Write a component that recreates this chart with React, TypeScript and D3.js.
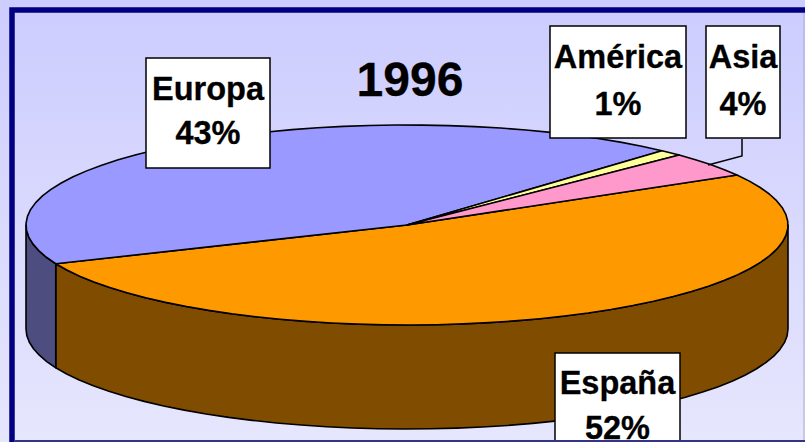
import React from "react";
import * as d3 from "d3";

const categories = ["España", "Europa", "América", "Asia"];
const shares = [52, 43, 1, 4];
const topColors = ["#ff9900", "#9999ff", "#ffff99", "#ff99cc"];
const sideColors = ["#804d00", "#4d4d80", "#808050", "#804d66"];
const chartTitle = "1996";

const width = 805;
const height = 442;
const cx = 407;
const cy = 225;
const rx = 381;
const ry = 100;
const depth = 104;

// slices go clockwise from the 12 o'clock position like d3.arc, squashed to an ellipse
const pie = d3
  .pie<number>()
  .sort(null)
  .startAngle((60 * Math.PI) / 180)
  .endAngle((420 * Math.PI) / 180);
const slices = pie(shares);

const px = (a: number) => cx + rx * Math.sin(a);
const py = (a: number) => cy - ry * Math.cos(a);

const line = d3
  .line<[number, number]>()
  .x((d) => d[0])
  .y((d) => d[1]);

function rimPoints(a0: number, a1: number): [number, number][] {
  const step = (4 * Math.PI) / 180;
  const n = Math.max(1, Math.ceil((a1 - a0) / step));
  return d3.range(n + 1).map((i) => {
    const a = a0 + ((a1 - a0) * i) / n;
    return [px(a), py(a)];
  });
}

// front wall between two angles
function wallPath(a0: number, a1: number) {
  const rim = rimPoints(a0, a1);
  const under = rim.map(([x, y]) => [x, y + depth] as [number, number]).reverse();
  return line([...rim, ...under]) + "Z";
}

const Label = ({ x, y, w, h, name, pct, line1, line2 }: any) => (
  <g>
    <rect x={x} y={y} width={w} height={h} fill="#ffffff" stroke="#000000" strokeWidth={1.5} />
    <text x={x + w / 2} y={y + line1} textAnchor="middle" fontSize={32.5} stroke="#000" strokeWidth={0.3}>
      {name}
    </text>
    <text x={x + w / 2} y={y + line2} textAnchor="middle" fontSize={32.5} stroke="#000" strokeWidth={0.3}>
      {pct}
    </text>
  </g>
);

export default function App() {
  const [spain, europe] = slices;
  const east = Math.PI / 2;
  const west = Math.PI * 1.5;
  const labelFor = (i: number) => `${shares[i]}%`;

  return (
    <svg
      width={width}
      height={height}
      viewBox={`0 0 ${width} ${height}`}
      style={{ position: "absolute", left: 0, top: 0 }}
      fontFamily="'Liberation Sans', Arial, sans-serif"
      fontWeight="bold"
    >
      <defs>
        <linearGradient id="bg" x1="0" y1="0" x2="0" y2="1">
          <stop offset="0" stopColor="#ccccff" />
          <stop offset="1" stopColor="#e6e6fd" />
        </linearGradient>
      </defs>
      <rect width={width} height={height} fill="url(#bg)" />
      <path d="M12 442V10H805" fill="none" stroke="#000080" strokeWidth={5.5} />

      {/* side walls, only the part of the rim facing the viewer */}
      <path d={wallPath(east, spain.endAngle)} fill={sideColors[0]} stroke="#000" strokeWidth={1.6} strokeLinejoin="round" />
      <path d={wallPath(europe.startAngle, west)} fill={sideColors[1]} stroke="#000" strokeWidth={1.6} strokeLinejoin="round" />

      {/* top faces */}
      {slices.map((s, i) => (
        <path
          key={categories[i]}
          d={line([[cx, cy], ...rimPoints(s.startAngle, s.endAngle)]) + "Z"}
          fill={topColors[i]}
          stroke="#000"
          strokeWidth={1.6}
          strokeLinejoin="round"
        />
      ))}

      <path d="M742 139V156L708 165" fill="none" stroke="#000" strokeWidth={1.5} />

      <text x={410} y={96} textAnchor="middle" fontSize={48} stroke="#000" strokeWidth={0.3}>
        {chartTitle}
      </text>
      <Label x={146} y={58} w={124} h={110} name={categories[1]} pct={labelFor(1)} line1={42} line2={86} />
      <Label x={550} y={26} w={136} h={112} name={categories[2]} pct={labelFor(2)} line1={42} line2={89} />
      <Label x={706} y={26} w={74} h={112} name={categories[3]} pct={labelFor(3)} line1={42} line2={89} />
      <Label x={555} y={353} w={125} h={112} name={categories[0]} pct={labelFor(0)} line1={41} line2={86} />

      <path d="M15 441H805" fill="none" stroke="#333388" strokeWidth={2} />
      <path d="M804 13V440" fill="none" stroke="#a9a9d8" strokeWidth={1} />
    </svg>
  );
}
